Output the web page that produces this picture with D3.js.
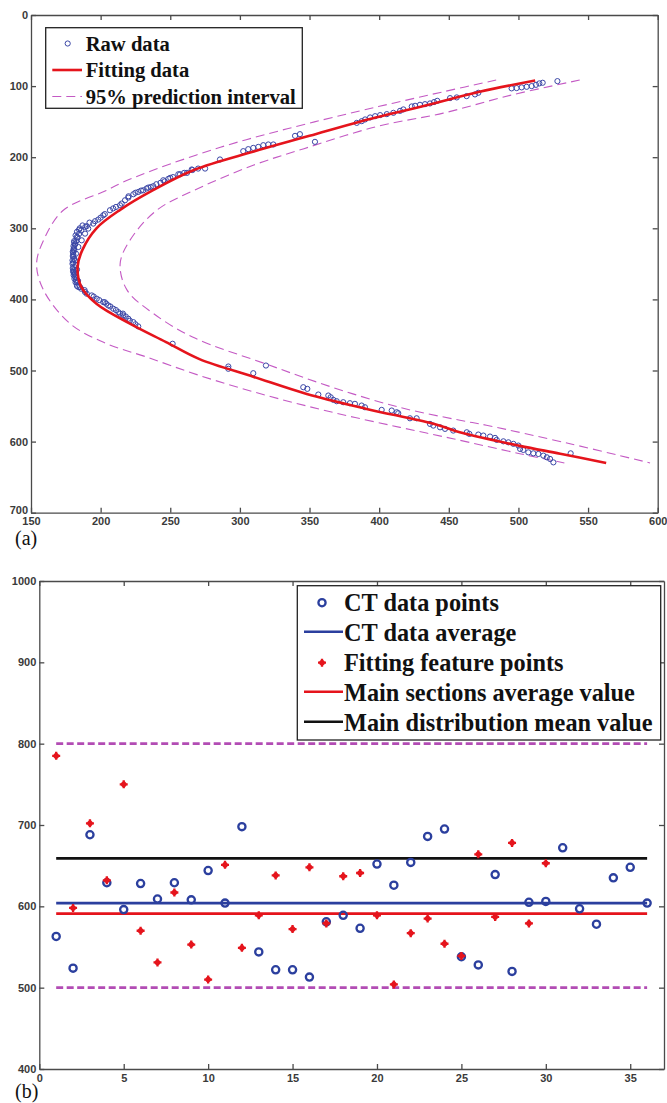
<!DOCTYPE html>
<html>
  <head>
    <meta charset="utf-8">
    <title>Fitting results</title>
    <script src="https://cdn.jsdelivr.net/npm/d3@7"></script>
    <style>
      body { margin: 0; background: #fff; }
      svg { display: block; }
      .tick text { font-family: Arial, "Liberation Sans", sans-serif; font-size: 11px; font-weight: bold; fill: #3a3a3a; }
      .legend text { font-family: "Liberation Serif", "Times New Roman", serif; font-weight: bold; fill: #111; }
      .panel { font-family: "Liberation Serif", "Times New Roman", serif; font-size: 20px; fill: #111; }
    </style>
  </head>
  <body>
    <svg id="chart" width="667" height="1103"></svg>

    <script>
      // ---- data, panel (a) ----
      // raw contour points (x, depth)
      const rawX = [528, 517.4, 515, 512.6, 509.5, 505.9, 502.3, 498.7, 495.1,
        471.2, 468.8, 462.8, 455.7, 450.9,
        441.7, 439.4, 436.5, 432.9, 429.3, 425.8, 423.4, 417.4, 415, 410.2, 405.5, 400.7, 397.1, 393.5, 389.9, 387.5,
        383.9, 343.1, 339.6, 353.9,
        324, 320.4, 316.8, 313.2, 309.6, 306, 302.4,
        285.7, 265.4, 257, 255.8, 248.6, 245,
        275, 270, 266, 262, 260, 252, 250, 246, 243, 240, 236, 233, 229, 225, 220,
        237.8, 234.2, 230.6, 227, 223.5, 219.9, 217.5, 215.1,
        213.9, 211, 209, 206.7, 203, 201.9, 200, 198.3, 196, 194.7, 190, 191.1, 187, 188.8, 185, 186.4, 183, 184, 182, 182.3,
        181, 181.6, 181, 180.5, 180.5, 181.1, 180, 180.5, 181.6, 181, 182, 182.3, 183, 181, 181.5, 184, 183,
        192, 189, 186, 184.5, 183.5, 182.5, 181.5, 180.8, 180.3, 180, 179.8, 179.8, 180, 180.2, 180.6, 181.2, 182, 183,
        184.5, 183, 181.8, 181, 180.4, 180.2, 180.4, 181, 182.2, 183.8, 186, 188.5,
        185.2, 188.8, 190, 193.6, 195, 197.2, 199, 201.9, 203, 204, 205.5, 207, 209.1, 211, 212.7, 214, 216.3, 216, 218, 219.9, 221, 223.5, 225, 227,
        251.7, 291.7, 291.7, 309.6, 318.7,
        345.5, 348.4, 356.3,
        363.5, 365.2, 367.1, 369.5, 374.2, 379, 382.6, 387.4, 389.8,
        401.8, 409, 412.6, 413.7, 422.1, 426.9,
        436.5, 438.9, 443.7, 447.3, 453.2,
        462.9, 464.8, 471.2, 474.8, 479.6, 483.2, 484.4, 489.2, 492.8, 496.4, 500, 501.2, 503.5, 507.1, 510.7, 514.3, 517.9, 520.4, 522.7, 525.1,
        537.5];
      const rawY = [93, 95.3, 96.2, 98.2, 100, 101, 101.8, 102.8, 103.2,
        109.4, 111.7, 114.1, 115.9, 116.9,
        120.7, 122.5, 124.4, 125.4, 126.3, 127.7, 128.6, 132.8, 134.8, 137.6, 139.4, 140.8, 142.3, 144.1, 146.9, 149.3,
        151.7, 167.6, 170, 178.4,
        182.1, 182.1, 183.1, 185.5, 186.9, 188.7, 191.5,
        203.2, 217.3, 224, 224, 230.5, 232.4,
        216, 216, 218, 222, 222, 228, 229, 234, 236, 238, 242, 244, 247, 250, 255,
        240.8, 242.7, 246.5, 248.9, 252.1, 256.8, 260.6, 265.2,
        267.6, 270, 272, 274.6, 280, 281.7, 285, 287.7, 290, 293.4, 297, 300.4, 296, 307.5, 300, 316.9, 305, 326.3, 310, 335.7,
        318, 345.1, 320, 325, 330, 354.5, 333, 340, 363.8, 343, 352, 373.2, 358, 361, 368, 382.6, 376,
        292, 298, 303, 308, 313, 318, 323, 328, 334, 339, 345, 350, 356, 361, 366, 371, 376, 381,
        302, 312, 322, 331, 337, 348, 359, 364, 369, 374, 385, 387,
        382.6, 389.7, 392, 394.4, 396, 399, 401, 403.8, 404, 406, 408.5, 410, 413.1, 415, 417.9, 420, 422.5, 420, 424, 427.2, 430, 432, 435, 438,
        462.4, 494.4, 497.6, 503.8, 493,
        523.5, 525.8, 533.8,
        535.2, 537.6, 541.3, 543.2, 544.6, 546, 546.9, 549.3, 551.7,
        555.4, 556.3, 558.7, 560.1, 567.2, 567.2,
        575.1, 577.5, 579.9, 582.1, 584.5,
        586.9, 589.2, 590.1, 591.5, 592.9, 594.8, 597.6, 599.6, 601, 603.2, 605.6, 610.3, 611.7, 615.1, 616.5, 617.4, 619.7, 622.1, 624.4, 629.2,
        616.5];

      // fitted curve
      const fitY = [92, 108, 127, 150, 170, 192, 218, 246, 274, 300, 330, 354, 382, 406, 434, 460, 484, 509, 533, 554, 575, 588, 606, 617, 630];
      const fitX = [512, 472, 434, 386, 350, 310, 267, 238, 214, 197, 187, 183.5, 186, 197, 221, 247, 271, 310, 348, 391, 439, 460, 501, 530, 563];

      // 95% prediction interval, outer and inner bounds
      const outerY = [91.5, 108, 124, 135, 160, 186, 218, 237, 247, 275, 317, 350, 387, 434, 462, 481, 507, 535, 559, 580, 596, 617, 630];
      const outerX = [484, 446, 410, 386, 334, 286, 238, 214, 204, 173, 159, 154, 159, 178, 204, 233, 271, 319, 367, 415, 453, 501, 533];
      const innerY = [91.5, 113, 138, 157, 188, 211, 244, 275, 317, 350, 387, 420, 453, 491, 524, 552, 570, 577, 603, 630];
      const innerX = [544, 494, 446, 398, 346, 310, 270, 240, 221, 214, 219, 238, 266, 319, 367, 415, 458, 477, 537, 594.5];

      const aTicksX = [150, 200, 250, 300, 350, 400, 450, 500, 550, 600];
      const aTicksY = [0, 100, 200, 300, 400, 500, 600, 700];
      const aLegend = ["Raw data", "Fitting data", "95% prediction interval"];

      // ---- data, panel (b) ----
      const sections = [1, 2, 3, 4, 5, 6, 7, 8, 9, 10, 11, 12, 13, 14, 15, 16, 17, 18,
        19, 20, 21, 22, 23, 24, 25, 26, 27, 28, 29, 30, 31, 32, 33, 34, 35, 36];
      const ctPoints = [563, 524, 688, 629, 596, 628, 609, 629, 608, 644, 604, 698, 544, 522, 522, 513, 581, 589,
        573, 652, 626, 654, 686, 695, 538, 528, 639, 520, 605, 606, 672, 597, 578, 635, 648, 604];
      const featurePoints = [785, 598, 702, 632, 750, 570, 531, 617, 553, 510, 651, 549, 589, 638, 572, 648, 579, 637,
        641, 589, 504, 567, 585, 554, 539, 664, 587, 678, 579, 653];
      const ctAverage = 604;
      const sectionAverage = 591;
      const distributionMean = 659;
      const bounds = [800, 500];

      const bTicksX = [0, 5, 10, 15, 20, 25, 30, 35];
      const bTicksY = [400, 500, 600, 700, 800, 900, 1000];
      const bLegend = ["CT data points", "CT data average", "Fitting feature points", "Main sections average value", "Main distribution mean value"];

      // colours
      const ringBlue = "#3b47a6";
      const lineBlue = "#2b3f9e";
      const red = "#e5141c";
      const magenta = "#c45ac4";
      const purple = "#b24cb4";

      const svg = d3.select("#chart");

      // ---- helpers ----
      function boxAxes(g, x, y, xt, yt) {
        const tick = -5;
        const fmt = d3.format("d");
        const yBottom = d3.max(y.range()), yTop = d3.min(y.range());
        g.append("g").attr("transform", "translate(0," + yBottom + ")")
          .call(d3.axisBottom(x).tickValues(xt).tickFormat(fmt).tickSizeInner(tick).tickSizeOuter(0).tickPadding(5));
        g.append("g").attr("transform", "translate(0," + yTop + ")")
          .call(d3.axisTop(x).tickValues(xt).tickSizeInner(tick).tickSizeOuter(0).tickFormat(""));
        g.append("g").attr("class", "y-left").attr("transform", "translate(" + x.range()[0] + ",0)")
          .call(d3.axisLeft(y).tickValues(yt).tickFormat(fmt).tickSizeInner(tick).tickSizeOuter(0).tickPadding(3));
        g.append("g").attr("transform", "translate(" + x.range()[1] + ",0)")
          .call(d3.axisRight(y).tickValues(yt).tickSizeInner(tick).tickSizeOuter(0).tickFormat(""));
        g.selectAll(".domain, .tick line").attr("stroke", "#4a4a4a").attr("stroke-width", 1.3);
      }

      function star(s) {
        const k = s * 0.5;
        return "M" + (-s) + ",0H" + s + "M0," + (-s) + "V" + s +
          "M" + (-k) + "," + (-k) + "L" + k + "," + k +
          "M" + (-k) + "," + k + "L" + k + "," + (-k);
      }

      // ---- panel (a) ----
      const xa = d3.scaleLinear().domain([150, 600]).range([31, 657.7]);
      const ya = d3.scaleLinear().domain([0, 700]).range([15, 512.7]);
      const ga = svg.append("g");

      boxAxes(ga, xa, ya, aTicksX, aTicksY);
      // the "700" label sits in the corner next to "150"
      ga.select(".y-left").selectAll(".tick text").filter(d => d === 700).attr("dy", "0.05em");

      const lineA = d3.line().x(d => xa(d[0])).y(d => ya(d[1])).curve(d3.curveCatmullRom);
      [[outerX, outerY], [innerX, innerY]].forEach(b => {
        ga.append("path")
          .attr("d", lineA(b[0].map((v, i) => [v, b[1][i]])))
          .attr("fill", "none")
          .attr("stroke", magenta)
          .attr("stroke-width", 1.1)
          .attr("stroke-dasharray", "9,5");
      });

      ga.append("g").selectAll("circle")
        .data(rawX.map((v, i) => [v, rawY[i]]))
        .join("circle")
          .attr("cx", d => xa(d[0]))
          .attr("cy", d => ya(d[1]))
          .attr("r", 2.6)
          .attr("fill", "none")
          .attr("stroke", ringBlue)
          .attr("stroke-width", 1);

      ga.append("path")
        .attr("d", lineA(fitX.map((v, i) => [v, fitY[i]])))
        .attr("fill", "none")
        .attr("stroke", red)
        .attr("stroke-width", 2.6);

      // legend (a)
      const la = ga.append("g").attr("class", "legend");
      la.append("rect").attr("x", 45.7).attr("y", 27.7).attr("width", 256.6).attr("height", 80.6)
        .attr("fill", "#fff").attr("stroke", "#222").attr("stroke-width", 1.3);
      aLegend.forEach((t, i) => {
        const cy = 43.5 + i * 26.5;
        if (i === 0) {
          la.append("circle").attr("cx", 67.7).attr("cy", cy).attr("r", 2.6)
            .attr("fill", "none").attr("stroke", ringBlue).attr("stroke-width", 1);
        } else {
          la.append("line").attr("x1", 52.3).attr("x2", 82).attr("y1", cy).attr("y2", cy)
            .attr("stroke", i === 1 ? red : magenta)
            .attr("stroke-width", i === 1 ? 2.6 : 1.1)
            .attr("stroke-dasharray", i === 1 ? null : "9,5");
        }
        la.append("text").attr("x", 85.7).attr("y", cy + 7).attr("font-size", 20.6).text(t);
      });

      svg.append("text").attr("class", "panel").attr("x", 15).attr("y", 545).text("(a)");

      // ---- panel (b) ----
      const xb = d3.scaleLinear().domain([0, 37]).range([39.3, 664]);
      const yb = d3.scaleLinear().domain([400, 1000]).range([1069, 581]);
      const gb = svg.append("g");

      boxAxes(gb, xb, yb, bTicksX, bTicksY);

      const first = sections[0], last = sections[sections.length - 1];
      bounds.forEach(v => {
        gb.append("line").attr("x1", xb(first)).attr("x2", xb(last)).attr("y1", yb(v)).attr("y2", yb(v))
          .attr("stroke", purple).attr("stroke-width", 2.6).attr("stroke-dasharray", "7,3.5");
      });

      [[distributionMean, "#111"], [ctAverage, lineBlue], [sectionAverage, red]].forEach(d => {
        gb.append("line").attr("x1", xb(first)).attr("x2", xb(last)).attr("y1", yb(d[0])).attr("y2", yb(d[0]))
          .attr("stroke", d[1]).attr("stroke-width", 2.6);
      });

      gb.append("g").selectAll("circle")
        .data(ctPoints)
        .join("circle")
          .attr("cx", (d, i) => xb(sections[i]))
          .attr("cy", d => yb(d))
          .attr("r", 3.6)
          .attr("fill", "none")
          .attr("stroke", lineBlue)
          .attr("stroke-width", 2.3);

      gb.append("g").selectAll("path")
        .data(featurePoints)
        .join("path")
          .attr("transform", (d, i) => "translate(" + xb(sections[i]) + "," + yb(d) + ")")
          .attr("d", star(4))
          .attr("stroke", red)
          .attr("stroke-width", 2.3);

      // legend (b)
      const lb = gb.append("g").attr("class", "legend");
      lb.append("rect").attr("x", 297.3).attr("y", 585.7).attr("width", 363.4).attr("height", 154.3)
        .attr("fill", "#fff").attr("stroke", "#222").attr("stroke-width", 1.3);
      bLegend.forEach((t, i) => {
        const cy = 602.7 + i * 30;
        if (i === 0) {
          lb.append("circle").attr("cx", 322).attr("cy", cy).attr("r", 3.6)
            .attr("fill", "none").attr("stroke", lineBlue).attr("stroke-width", 2.3);
        } else if (i === 2) {
          lb.append("path").attr("transform", "translate(322," + cy + ")")
            .attr("d", star(4)).attr("stroke", red).attr("stroke-width", 2.3);
        } else {
          lb.append("line").attr("x1", 304).attr("x2", 343).attr("y1", cy - 1).attr("y2", cy - 1)
            .attr("stroke", i === 1 ? lineBlue : i === 3 ? red : "#111")
            .attr("stroke-width", 2.4);
        }
        lb.append("text").attr("x", 344).attr("y", cy + 8.5).attr("font-size", 24.3).text(t);
      });

      svg.append("text").attr("class", "panel").attr("x", 15).attr("y", 1098).text("(b)");
    </script>
  </body>
</html>
